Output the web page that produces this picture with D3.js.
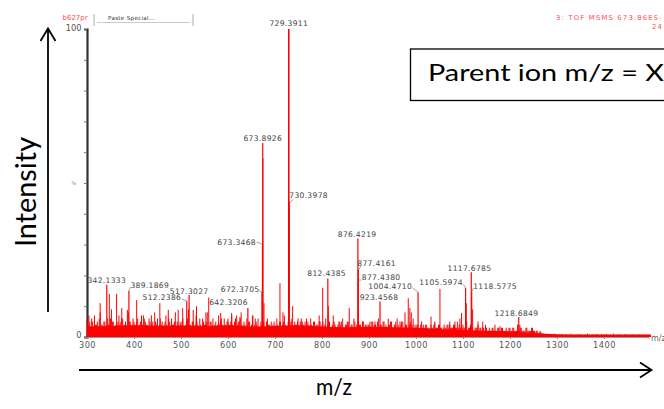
<!DOCTYPE html>
<html>
<head>
<meta charset="utf-8">
<script src="https://cdn.jsdelivr.net/npm/d3@7"></script>
<style>
  html, body { margin: 0; padding: 0; background: #fff; }
  svg { display: block; }
</style>
</head>
<body>
<svg id="chart" width="664" height="409"></svg>
<script>
// Labelled fragment peaks (m/z and relative intensity, %)
const labelledMz = [342.1333, 389.1869, 512.2386, 517.3027, 642.3206, 672.3705, 673.3468, 673.8926,
  729.3911, 730.3978, 812.4385, 876.4219, 877.4161, 877.4380, 923.4568, 1004.4710,
  1105.5974, 1117.6785, 1118.5775, 1218.6849];
const labelledInt = [17, 15, 11.7, 13.6, 9.4, 14.6, 30, 63,
  100, 44, 19, 32, 22, 18, 11.5, 14.5,
  16, 21, 14.6, 6.5];

// Unlabelled peaks standing above the baseline
const minorMz = [304, 328, 347.5, 363, 374, 386, 405.7, 420, 437, 455, 473, 494, 503.6, 526, 533, 553,
  559, 584.5, 600, 607.8, 618.5, 625.5, 653, 674.39, 676.6, 710.6, 717, 737.6, 749, 758, 767, 794,
  801.5, 813.5, 838, 858, 886.5, 902, 912.8, 941, 957, 969.5, 976.6, 983.6, 987, 990, 994, 1015.6,
  1032, 1040, 1051, 1072, 1083, 1093.6, 1097, 1107, 1120.6, 1132, 1142, 1178.7, 1221, 1246];
const minorInt = [7, 11, 14, 14, 9.4, 8.8, 12, 7, 7, 11, 8.8, 8.8, 9.4, 8.8, 10, 8,
  12.8, 7.8, 6, 7.8, 7, 6.5, 7, 58, 11, 17.5, 8, 10, 6, 5, 6, 7,
  16, 10, 5, 9.4, 5, 5, 5, 6, 5, 5, 8, 12.6, 9.4, 8, 6, 4,
  6.6, 4.5, 15.6, 4, 5, 6, 7.8, 11, 9, 5, 5, 3.5, 4, 3];

// Dense baseline "grass", one value every 4 m/z starting at 300
const grassStart = 300, grassStep = 4;
const grass = [
  6,4,3,5,7,4,3,8,4,5,3,6,4,9,5,3,4,7,5,6,4,3,8,5,4,
  5,3,6,4,7,3,5,4,6,3,5,8,4,3,6,5,4,7,3,5,6,4,8,5,3,
  4,6,3,5,9,4,5,3,7,4,6,3,5,4,8,3,5,6,4,3,7,5,4,6,3,
  5,4,7,3,6,4,5,8,3,4,6,5,3,7,4,5,6,3,4,5,3,6,4,5,3,
  4,6,3,5,4,7,3,5,4,6,3,4,5,3,6,4,5,3,4,6,3,5,4,3,5,
  4,3,6,4,5,3,7,4,3,5,4,6,3,4,5,3,4,6,3,5,4,3,5,4,3,
  4,3,5,4,3,6,4,3,5,4,3,4,5,3,4,6,3,4,5,3,4,3,5,4,3,
  3,4,3,5,3,4,3,2,4,3,5,3,4,3,2,4,3,4,5,3,4,3,5,4,3,
  4,3,5,3,4,3,2,3,4,3,2,3,4,2,3,2,3,4,2,3,2,3,2,3,2,
  3,2,3,2,4,2,3,2,2,3,2,2,3,2,2,1,2
];
// Second, offset row of grass (every 4 m/z starting at 302) filling the gaps
const grassStart2 = 302;
const grass2 = [
  4,5,6,3,4,5,6,4,3,5,4,4,6,5,3,4,5,4,6,3,5,4,5,3,6,
  4,5,3,5,4,6,4,3,5,4,3,5,6,4,4,3,5,4,6,3,4,5,3,4,5,
  5,3,4,6,4,3,5,4,5,3,4,6,4,5,3,5,4,3,5,4,4,6,3,4,5,
  3,5,4,5,3,5,6,4,5,3,4,5,4,3,6,4,3,5,4,3,5,4,3,4,5,
  3,4,5,3,5,4,3,4,5,3,5,4,3,5,4,3,4,5,3,4,5,3,4,5,3,
  5,4,3,5,3,4,5,3,4,3,5,3,4,5,3,4,3,5,4,3,4,5,3,4,4,
  3,5,3,4,5,3,4,5,3,3,4,5,3,4,3,4,5,3,3,4,3,4,3,3,4,
  4,3,4,3,3,4,3,3,3,4,3,3,4,3,3,3,4,3,3,3,4,3,3,3,3,
  3,3,2,3,3,2,3,3,2,3,3,2,3,2,2,3,2,2,3,2,3,2,2,2,3,
  2,3,2,2,2,3,2,2,3,2,2,2,2,1.5,2,1.5,1.5
];
// Solid floor under the grass, every 50 m/z from 300
const floorStart = 300, floorStep = 50;
const floorLevel = [3.4, 3.6, 3.8, 3.6, 3.7, 3.5, 3.8, 3.4, 3.6, 3.8, 3.4, 3.2, 3.3, 3.2, 3, 2.5, 2.3, 2, 1.8, 1.3,
  0.9, 0.8, 0.8, 0.8, 0.8];
// Low-level tail after 1270, every 5 m/z
const tailStart = 1270, tailStep = 5;
const tail = [1.2,0.8,1,0.7,0.9,1.1,0.7,0.8,1,0.7,0.9,0.8,1.1,0.7,0.8,1,0.9,0.7,0.8,1.1,0.7,0.9,0.8,1,
  0.7,0.9,0.8,1,0.7,0.8,1.1,0.7,0.9,0.8,0.7,1,0.8,0.7,0.9,0.8,0.7,0.9,0.8,0.7,0.8,0.7];

const xTicks = [300, 400, 500, 600, 700, 800, 900, 1000, 1100, 1200, 1300, 1400];
const yTicks = [0, 10, 20, 30, 40, 50, 60, 70, 80, 90, 100];

const svg = d3.select("#chart");
const x = d3.scaleLinear().domain([300, 1495]).range([87, 648.6]);
const y = d3.scaleLinear().domain([0, 100]).range([337, 29]);
const RED = "#ff0000";

// Placement of each peak label relative to its peak top: [dx, dy, anchor, leader]
const labelPlacement = {
  "342.1333": [0, -1.5, "middle"],
  "389.1869": [1.5, -3, "start", [[0, 0], [1.5, -4]]],
  "512.2386": [-5.5, -1, "end", [[-5, -2], [0, 0]]],
  "517.3027": [0, -1.5, "middle"],
  "642.3206": [0, -3, "end"],
  "672.3705": [-2.5, 0, "end", [[-2.5, -1.5], [0, 0]]],
  "673.3468": [-6.5, 0, "end", [[-6, -2.5], [-3, -1.5], [0, 0]]],
  "673.8926": [0, -2, "middle"],
  "729.3911": [0, -3, "middle"],
  "730.3978": [0, -3, "start", [[0.5, 1], [4, -2]]],
  "812.4385": [-1.2, -2.5, "middle"],
  "876.4219": [-0.8, -1.5, "middle"],
  "877.4161": [-1, -3, "start", [[0, 1], [2.5, -3]]],
  "877.4380": [3.5, -1.5, "start", [[0.5, -1.5], [3, -1.5]]],
  "923.4568": [-1, -1.5, "middle"],
  "1004.4710": [-6, -3.5, "end", [[-5.5, -4.5], [0, 0]]],
  "1105.5974": [-2.6, -3, "end", [[-2.5, -3.5], [0, 0]]],
  "1117.6785": [-1.8, -1.5, "middle"],
  "1118.5775": [1.5, -3, "start", [[0, 0], [1.8, -4]]],
  "1218.6849": [-2.3, -1, "middle"]
};

// ---- y axis: heavy vertical line with 10% ticks
const yAxis = d3.axisLeft(y).tickValues(yTicks).tickSize(3)
  .tickFormat(d => (d === 0 || d === 100) ? d : "");
const gy = svg.append("g").attr("transform", "translate(87,0)").call(yAxis);
gy.select(".domain").attr("stroke", "#333").attr("stroke-width", 2.2);
gy.selectAll(".tick line").attr("stroke", "#777").attr("stroke-width", 1);
gy.selectAll(".tick text").attr("font-family", "DejaVu Sans, sans-serif")
  .attr("font-size", 8.3).attr("fill", "#555").attr("x", -5.5)
  .attr("dy", d => d === 0 ? "0.05em" : "0.2em");
svg.append("text").attr("x", 74).attr("y", y(50) + 2).attr("text-anchor", "middle")
  .attr("font-family", "DejaVu Sans, sans-serif").attr("font-size", 5).attr("fill", "#888").text("%");

// ---- x axis ticks and labels
const xAxis = d3.axisBottom(x).tickValues(xTicks).tickSize(2).tickPadding(3)
  .tickFormat(d3.format("d"));
const gx = svg.append("g").attr("transform", "translate(0,337)").call(xAxis);
gx.select(".domain").attr("stroke", "#999").attr("stroke-width", 1);
gx.selectAll(".tick line").attr("stroke", "#888");
gx.selectAll(".tick text").attr("font-family", "DejaVu Sans, sans-serif")
  .attr("font-size", 8.2).attr("fill", "#555").attr("letter-spacing", 0.5);
svg.append("text").attr("x", 651).attr("y", 341).attr("font-family", "DejaVu Sans, sans-serif")
  .attr("font-size", 8).attr("fill", "#666").text("m/z");

// ---- spectrum
const spec = svg.append("g");
const floorPts = floorLevel.map((v, i) => [floorStart + i * floorStep, v]);
spec.append("path")
  .attr("d", d3.area().x(d => x(d[0])).y0(y(0)).y1(d => y(d[1])).curve(d3.curveMonotoneX)(floorPts))
  .attr("fill", RED);

const sticks = grass.map((v, i) => [grassStart + i * grassStep, v])
  .concat(grass2.map((v, i) => [grassStart2 + i * grassStep, v]))
  .concat(tail.map((v, i) => [tailStart + i * tailStep, v]));
spec.selectAll("line.grass").data(sticks).join("line").attr("class", "grass")
  .attr("x1", d => x(d[0])).attr("x2", d => x(d[0]))
  .attr("y1", y(0)).attr("y2", d => y(d[1]))
  .attr("stroke", RED).attr("stroke-width", 1);

const minor = minorMz.map((m, i) => [m, minorInt[i]]);
spec.selectAll("line.minor").data(minor).join("line").attr("class", "minor")
  .attr("x1", d => x(d[0])).attr("x2", d => x(d[0]))
  .attr("y1", y(0)).attr("y2", d => y(d[1]))
  .attr("stroke", RED).attr("stroke-width", 1);

const major = labelledMz.map((m, i) => [m, labelledInt[i]]);
spec.selectAll("line.major").data(major).join("line").attr("class", "major")
  .attr("x1", d => x(d[0])).attr("x2", d => x(d[0]))
  .attr("y1", y(0)).attr("y2", d => y(d[1]))
  .attr("stroke", RED).attr("stroke-width", d => d[1] >= 99 ? 1.6 : 1.2);

// ---- peak labels with short leaders
const lab = svg.append("g");
major.forEach(([m, v]) => {
  const key = m.toFixed(4);
  const [dx, dy, anchor, leader] = labelPlacement[key];
  const px = x(m), py = y(v);
  if (leader) {
    lab.append("path")
      .attr("d", d3.line()(leader.map(p => [px + p[0], py + p[1]])))
      .attr("fill", "none").attr("stroke", "#888").attr("stroke-width", 0.8);
  }
  lab.append("text").attr("x", px + dx).attr("y", py + dy).attr("text-anchor", anchor)
    .attr("font-family", "DejaVu Sans, sans-serif").attr("font-size", 7.6)
    .attr("fill", "#444").attr("letter-spacing", 0.3).text(key);
});

// ---- instrument header
svg.append("text").attr("x", 62.5).attr("y", 20).attr("font-family", "DejaVu Sans, sans-serif")
  .attr("font-size", 7).attr("fill", "#ff5050").text("b627pr");
svg.append("line").attr("x1", 94).attr("x2", 94).attr("y1", 14).attr("y2", 26).attr("stroke", "#aaa");
svg.append("line").attr("x1", 193).attr("x2", 193).attr("y1", 14).attr("y2", 26).attr("stroke", "#aaa");
svg.append("line").attr("x1", 97).attr("x2", 190).attr("y1", 22.5).attr("y2", 22.5).attr("stroke", "#ccc");
svg.append("text").attr("x", 108).attr("y", 19.5).attr("font-family", "DejaVu Sans, sans-serif")
  .attr("font-size", 5.6).attr("fill", "#333").attr("letter-spacing", 0.3).text("Paste Special...");
svg.append("text").attr("x", 663).attr("y", 20).attr("text-anchor", "end")
  .attr("font-family", "DejaVu Sans, sans-serif").attr("font-size", 6.8).attr("fill", "#ff5050")
  .attr("letter-spacing", 1.2).text("3: TOF MSMS 673.86ES-");
svg.append("text").attr("x", 663).attr("y", 28.5).attr("text-anchor", "end")
  .attr("font-family", "DejaVu Sans, sans-serif").attr("font-size", 6.8).attr("fill", "#ff5050")
  .attr("letter-spacing", 1.2).text("24");

// ---- annotation box
svg.append("rect").attr("x", 410.5).attr("y", 49).attr("width", 300).attr("height", 51.5)
  .attr("fill", "#fff").attr("stroke", "#000").attr("stroke-width", 1.3);
svg.append("text").attr("x", 428).attr("y", 81).attr("font-family", "Lato, sans-serif")
  .attr("font-size", 22.5).attr("fill", "#000").attr("textLength", 236)
  .attr("lengthAdjust", "spacingAndGlyphs").text("Parent ion m/z = X");

// ---- axis arrows and titles
const arrows = svg.append("g").attr("stroke", "#000").attr("stroke-width", 1.8).attr("fill", "none");
arrows.append("line").attr("x1", 48).attr("x2", 48).attr("y1", 312).attr("y2", 29);
arrows.append("path").attr("d", "M40.5,41L48,28.5L55.5,41");
arrows.append("line").attr("x1", 79).attr("x2", 651).attr("y1", 370).attr("y2", 370);
arrows.append("path").attr("d", "M640,362.5L651.5,370L640,377.5");

svg.append("text").attr("transform", "translate(36,192) rotate(-90)").attr("text-anchor", "middle")
  .attr("font-family", "Lato, sans-serif").attr("font-size", 28).attr("fill", "#000")
  .attr("textLength", 110).attr("lengthAdjust", "spacingAndGlyphs").text("Intensity");
svg.append("text").attr("x", 334).attr("y", 395).attr("text-anchor", "middle")
  .attr("font-family", "Lato, sans-serif").attr("font-size", 24).attr("fill", "#000")
  .attr("textLength", 36).attr("lengthAdjust", "spacingAndGlyphs").text("m/z");
</script>
</body>
</html>
